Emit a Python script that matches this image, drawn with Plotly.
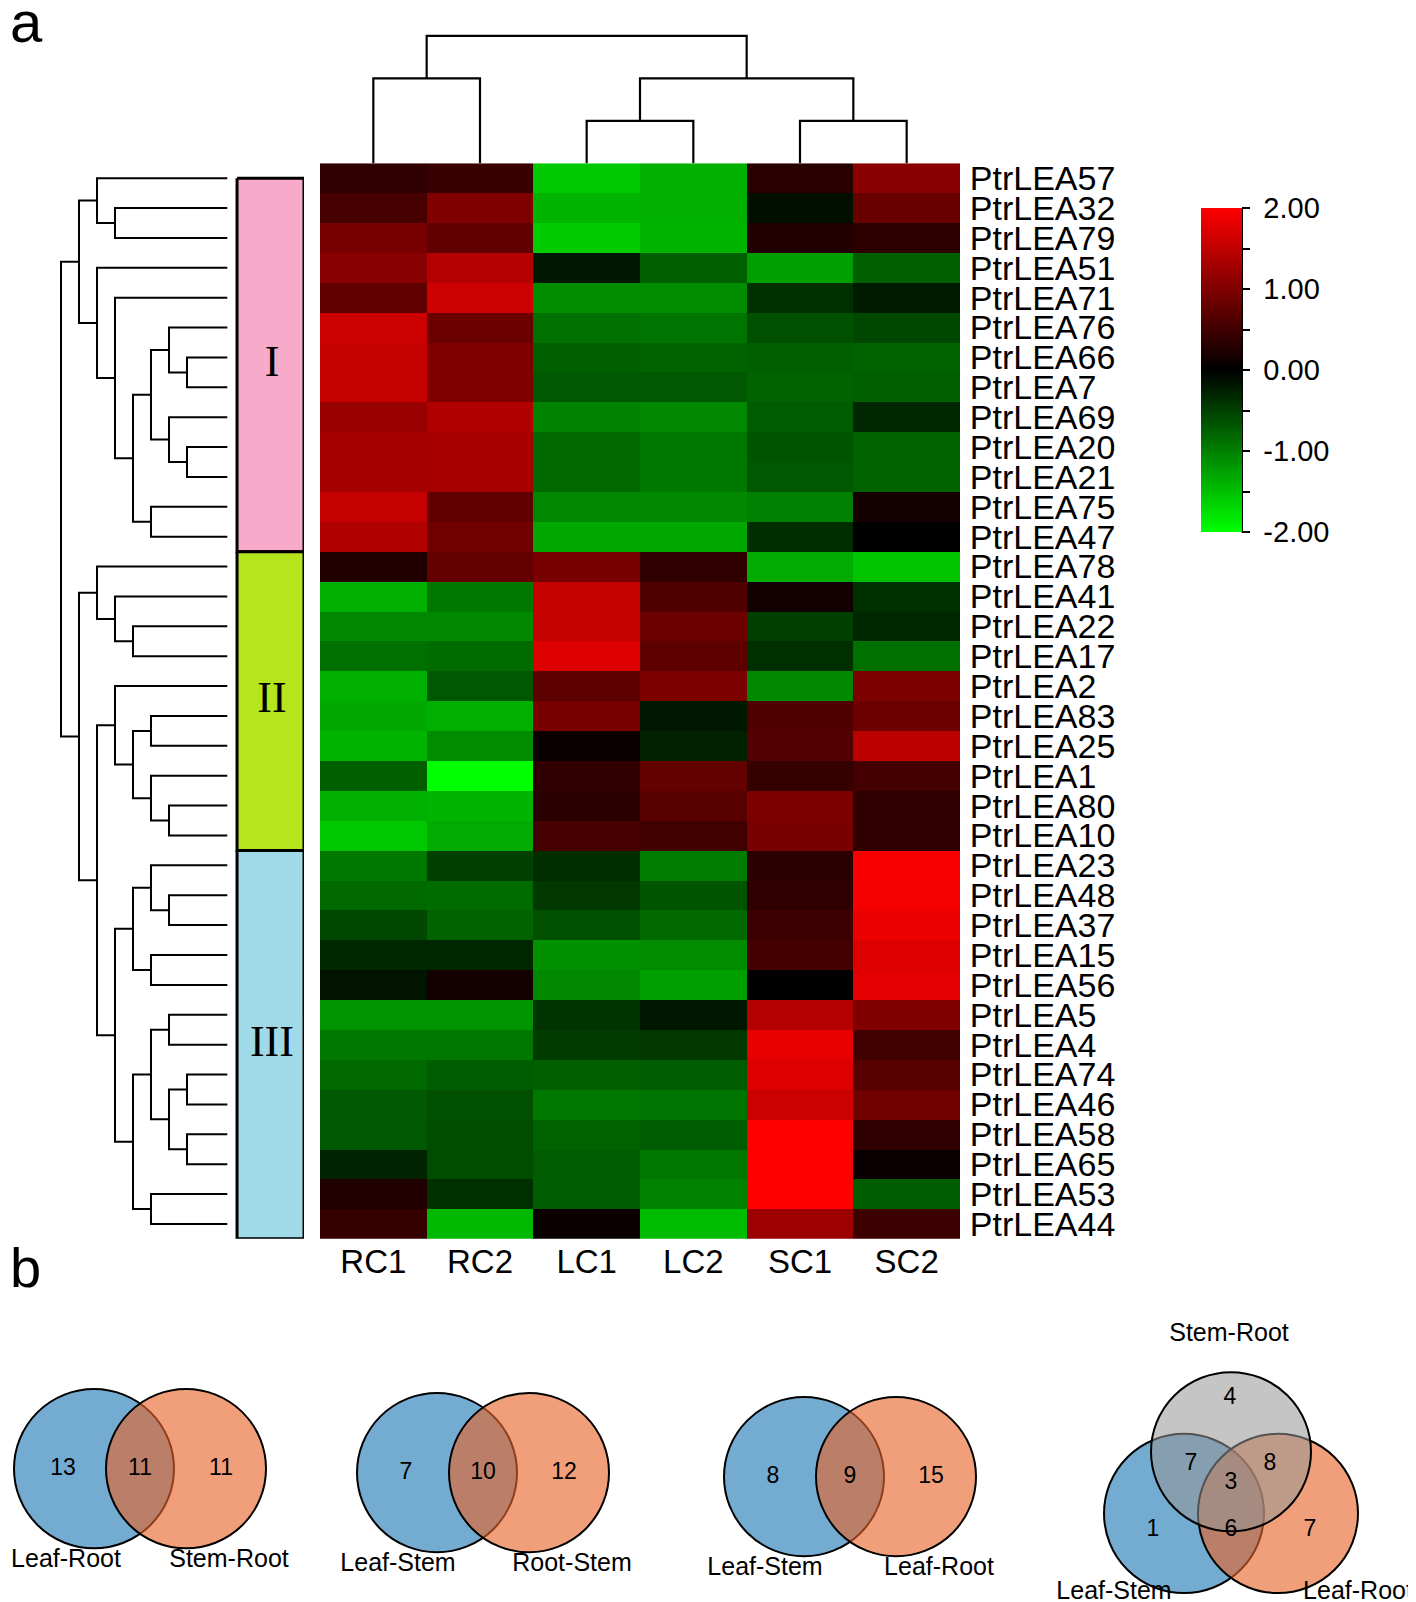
import plotly.graph_objects as go

W, H = 1416, 1602
FONT = "Liberation Sans, Arial, sans-serif"

genes = ["PtrLEA57", "PtrLEA32", "PtrLEA79", "PtrLEA51", "PtrLEA71", "PtrLEA76",
         "PtrLEA66", "PtrLEA7", "PtrLEA69", "PtrLEA20", "PtrLEA21", "PtrLEA75",
         "PtrLEA47", "PtrLEA78", "PtrLEA41", "PtrLEA22", "PtrLEA17", "PtrLEA2",
         "PtrLEA83", "PtrLEA25", "PtrLEA1", "PtrLEA80", "PtrLEA10", "PtrLEA23",
         "PtrLEA48", "PtrLEA37", "PtrLEA15", "PtrLEA56", "PtrLEA5", "PtrLEA4",
         "PtrLEA74", "PtrLEA46", "PtrLEA58", "PtrLEA65", "PtrLEA53", "PtrLEA44"]
samples = ["RC1", "RC2", "LC1", "LC2", "SC1", "SC2"]

# relative expression per gene (rows) and sample (cols)
expr = [
    [0.38, 0.44, -1.57, -1.38, 0.31, 1.07],
    [0.56, 1.00, -1.41, -1.38, -0.12, 0.82],
    [0.94, 0.75, -1.60, -1.41, 0.25, 0.35],
    [1.07, 1.41, -0.19, -0.75, -1.25, -0.75],
    [0.75, 1.60, -1.10, -1.10, -0.38, -0.22],
    [1.60, 0.85, -0.88, -0.91, -0.63, -0.56],
    [1.54, 1.00, -0.75, -0.78, -0.75, -0.78],
    [1.54, 1.00, -0.69, -0.69, -0.78, -0.75],
    [1.19, 1.38, -1.03, -1.07, -0.72, -0.31],
    [1.29, 1.32, -0.82, -0.94, -0.66, -0.78],
    [1.29, 1.32, -0.82, -0.94, -0.69, -0.78],
    [1.54, 0.75, -1.07, -1.07, -1.00, 0.16],
    [1.38, 0.88, -1.32, -1.32, -0.35, 0.00],
    [0.25, 0.78, 0.94, 0.38, -1.35, -1.54],
    [-1.38, -0.94, 1.54, 0.63, 0.16, -0.38],
    [-1.07, -1.07, 1.54, 0.85, -0.50, -0.31],
    [-0.88, -0.85, 1.73, 0.72, -0.38, -0.88],
    [-1.38, -0.69, 0.72, 0.97, -1.07, 0.97],
    [-1.32, -1.38, 0.94, -0.19, 0.63, 0.85],
    [-1.41, -1.10, 0.09, -0.25, 0.66, 1.47],
    [-0.75, -2.00, 0.38, 0.78, 0.41, 0.53],
    [-1.38, -1.41, 0.31, 0.69, 0.97, 0.38],
    [-1.57, -1.35, 0.56, 0.50, 0.94, 0.38],
    [-0.94, -0.50, -0.35, -0.97, 0.31, 1.95],
    [-0.82, -0.85, -0.44, -0.66, 0.38, 1.91],
    [-0.56, -0.78, -0.63, -0.82, 0.47, 1.85],
    [-0.31, -0.31, -1.13, -1.10, 0.53, 1.73],
    [-0.16, 0.16, -1.07, -1.25, 0.00, 1.79],
    [-1.16, -1.16, -0.41, -0.19, 1.41, 1.00],
    [-0.94, -0.94, -0.47, -0.44, 1.82, 0.50],
    [-0.82, -0.72, -0.75, -0.72, 1.73, 0.69],
    [-0.69, -0.63, -0.94, -0.91, 1.60, 0.88],
    [-0.69, -0.60, -0.78, -0.72, 2.00, 0.38],
    [-0.28, -0.60, -0.72, -0.94, 2.00, 0.09],
    [0.25, -0.38, -0.72, -1.03, 2.00, -0.72],
    [0.41, -1.44, 0.09, -1.47, 1.22, 0.47],
]

# clustering trees: (depth, left, right), ints are leaf indices
row_tree = (0,
    (1, (2, 0, (3, 1, 2)),
        (2, 3, (3, 4, (4, (5, (6, 5, (7, 6, 7)), (6, 8, (7, 9, 10))), (5, 11, 12))))),
    (1, (2, 13, (3, 14, (4, 15, 16))),
        (2, (3, 17, (4, (5, 18, 19), (5, 20, (6, 21, 22)))),
            (3, (4, (5, 23, (6, 24, 25)), (5, 26, 27)),
                (4, (5, (6, 28, 29), (6, (7, 30, 31), (7, 32, 33))), (5, 34, 35))))))
col_tree = (0, (1, 0, 1), (1, (2, 2, 3), (2, 4, 5)))

group_names = ["I", "II", "III"]
group_edges = [0, 12.5, 22.5, 35.5]
group_colors = ["#F7AAC9", "#B5E61D", "#A0D9E7"]

cbar_vals = [-2, -1.5, -1, -0.5, 0, 0.5, 1, 1.5, 2]
cbar_text = ["-2.00", "", "-1.00", "", "0.00", "", "1.00", "", "2.00"]

venn2_sets = [["Leaf-Root", "Stem-Root"], ["Leaf-Stem", "Root-Stem"], ["Leaf-Stem", "Leaf-Root"]]
venn2_counts = [[13, 11, 11], [7, 10, 12], [8, 9, 15]]
venn3_sets = ["Leaf-Stem", "Leaf-Root", "Stem-Root"]
# only LS, only LR, LS&LR, LS&SR, LR&SR, all, only SR
venn3_counts = [1, 7, 6, 7, 8, 3, 4]


def walk(node, leaf_level, lv, ps):
    if isinstance(node, int):
        return node, leaf_level
    level, a, b = node
    pa, la = walk(a, leaf_level, lv, ps)
    pb, lb = walk(b, leaf_level, lv, ps)
    lv += [la, level, level, lb, None]
    ps += [pa, pa, pb, pb, None]
    return (pa + pb) / 2, level


fig = go.Figure()

# heatmap
fig.add_trace(go.Heatmap(
    z=expr, x=list(range(len(samples))), y=list(range(len(genes))),
    colorscale=[[0, "#00FF00"], [0.5, "#000000"], [1, "#FF0000"]],
    zmin=-2, zmax=2, hoverinfo="skip",
    colorbar=dict(x=1193 / W, xanchor="left", y=1 - 360 / H, yanchor="middle",
                  len=326 / H, lenmode="fraction", thickness=41, xpad=0, ypad=0,
                  outlinewidth=0, tickvals=cbar_vals,
                  ticktext=["\u00a0" + t for t in cbar_text],
                  ticks="outside", ticklen=8, tickwidth=2, tickcolor="black",
                  tickfont=dict(size=29, family=FONT, color="black")),
    xaxis="x", yaxis="y"))

# row dendrogram + group bar
LEAF_LEVEL = 9.24
lv, ps = [], []
walk(row_tree, LEAF_LEVEL, lv, ps)
fig.add_trace(go.Scatter(x=lv, y=ps, mode="lines", line=dict(color="black", width=2),
                         xaxis="x2", yaxis="y2", hoverinfo="skip"))

BAR_X0, BAR_X1 = 9.78, 13.5
for i, name in enumerate(group_names):
    s, e = group_edges[i], group_edges[i + 1]
    fig.add_trace(go.Scatter(x=[BAR_X0, BAR_X1, BAR_X1, BAR_X0, BAR_X0], y=[s, s, e, e, s],
                             mode="lines", fill="toself", fillcolor=group_colors[i],
                             line=dict(color="black", width=3),
                             xaxis="x2", yaxis="y2", hoverinfo="skip"))
fig.add_trace(go.Scatter(
    x=[(BAR_X0 + BAR_X1) / 2 + 0.08] * len(group_names),
    y=[(group_edges[i] + group_edges[i + 1]) / 2 for i in range(len(group_names))],
    text=group_names, mode="text",
    textfont=dict(family="Liberation Serif, Times New Roman, serif", size=44, color="black"),
    xaxis="x2", yaxis="y2", hoverinfo="skip"))

# column dendrogram
lv, ps = [], []
walk(col_tree, 3, lv, ps)
fig.add_trace(go.Scatter(x=ps, y=lv, mode="lines", line=dict(color="black", width=2.2),
                         xaxis="x3", yaxis="y3", hoverinfo="skip"))

# venn diagrams (pixel axis x4/y4)
R = 80
BLUE = "rgba(31,119,180,0.62)"
ORANGE = "rgba(230,100,40,0.62)"
GREY = "rgba(150,150,150,0.55)"
shapes = []


def circle(cx, cy, color):
    shapes.append(dict(type="circle", xref="x4", yref="y4", x0=cx - R, x1=cx + R,
                       y0=cy - R, y1=cy + R, fillcolor=color,
                       line=dict(color="black", width=2), layer="below"))


num_x, num_y, num_t = [], [], []
lab_x, lab_y, lab_t = [], [], []
venn2_pos = [(132, 1464), (475, 1468), (842, 1472)]
for (cx, cy), sets, counts in zip(venn2_pos, venn2_sets, venn2_counts):
    circle(cx - 46, cy, BLUE)
    circle(cx + 46, cy, ORANGE)
    num_x += [cx - 77, cx, cx + 81]
    num_y += [cy + 1] * 3
    num_t += [str(c) for c in counts]
    lab_x += [max(cx - 85, 58), cx + 89]
    lab_y += [cy + 93] * 2
    lab_t += sets

cx, cy = 1223, 1509
circle(cx - 47, cy, BLUE)
circle(cx + 47, cy, ORANGE)
circle(cx, cy - 62, GREY)
num_x += [cx - 78, cx + 79, cx, cx - 40, cx + 39, cx, cx - 1]
num_y += [cy + 17, cy + 17, cy + 17, cy - 49, cy - 49, cy - 30, cy - 116]
num_t += [str(c) for c in venn3_counts]
lab_x += [cx - 117, cx + 127, cx - 2]
lab_y += [cy + 80, cy + 80, cy - 180]
lab_t += venn3_sets

fig.add_trace(go.Scatter(x=num_x, y=num_y, text=num_t, mode="text",
                         textfont=dict(family=FONT, size=23, color="black"),
                         xaxis="x4", yaxis="y4", hoverinfo="skip"))
fig.add_trace(go.Scatter(x=lab_x, y=lab_y, text=lab_t, mode="text",
                         textfont=dict(family=FONT, size=25, color="black"),
                         xaxis="x4", yaxis="y4", hoverinfo="skip"))

# colorbar axis line on the right of the gradient
shapes.append(dict(type="line", xref="paper", yref="paper", x0=1234 / W, x1=1234 / W,
                   y0=1 - 197 / H, y1=1 - 523 / H, line=dict(color="black", width=2)))

hm_xdom = [312 / W, 952 / W]
hm_ydom = [1 - 1233 / H, 1 - 152 / H]
hidden = dict(visible=False, showgrid=False, zeroline=False)

fig.update_layout(
    width=W, height=H, margin=dict(l=0, r=0, t=0, b=0),
    paper_bgcolor="white", plot_bgcolor="rgba(0,0,0,0)", showlegend=False,
    font=dict(family=FONT, color="black"),
    xaxis=dict(domain=hm_xdom, range=[-0.5, 5.5], anchor="y", tickvals=list(range(6)),
               ticktext=samples, ticks="", showgrid=False, zeroline=False, showline=False,
               tickfont=dict(size=33, family=FONT, color="black")),
    yaxis=dict(domain=hm_ydom, range=[35.5, -0.5], anchor="x", side="right",
               tickvals=list(range(len(genes))), ticktext=genes, ticks="outside",
               ticklen=2, tickcolor="rgba(0,0,0,0)", showgrid=False, zeroline=False,
               tickfont=dict(size=34, family=FONT, color="black")),
    xaxis2=dict(domain=[44 / W, 296 / W], range=[-0.5, 13.5], anchor="y2", **hidden),
    yaxis2=dict(domain=hm_ydom, range=[35.5, -0.5], anchor="x2", **hidden),
    xaxis3=dict(domain=hm_xdom, range=[-0.5, 5.5], anchor="y3", **hidden),
    yaxis3=dict(domain=[1 - 152 / H, 1 - 15.5 / H], range=[3, -0.2], anchor="x3", **hidden),
    xaxis4=dict(domain=[0, 1], range=[0, W], anchor="y4", **hidden),
    yaxis4=dict(domain=[0, 1], range=[H, 0], anchor="x4", **hidden),
    shapes=shapes,
    annotations=[
        dict(text="a", x=0, y=1 - 10 / H, xref="paper", yref="paper", xanchor="left",
             yanchor="middle", showarrow=False, font=dict(size=58, family=FONT)),
        dict(text="b", x=0, y=1 - 1262 / H, xref="paper", yref="paper", xanchor="left",
             yanchor="middle", showarrow=False, font=dict(size=56, family=FONT)),
    ],
)

fig.write_html("out.html")
